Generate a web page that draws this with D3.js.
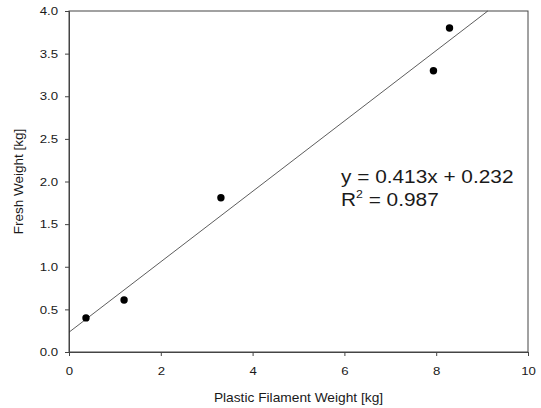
<!DOCTYPE html>
<html>
<head>
<meta charset="utf-8">
<script src="https://cdn.jsdelivr.net/npm/d3@7"></script>
<style>
  body { margin: 0; background: #fff; }
  svg text { font-family: "Liberation Sans", Arial, sans-serif; fill: #1a1a1a; }
</style>
</head>
<body>
<div id="chart"></div>
<script>
// data
const filament = [0.37, 1.2, 3.31, 7.94, 8.29];
const fresh = [0.40, 0.61, 1.81, 3.30, 3.80];
const slope = 0.413, intercept = 0.232, r2 = 0.987;
const xTicks = [0, 2, 4, 6, 8, 10];
const yTicks = [0, 0.5, 1, 1.5, 2, 2.5, 3, 3.5, 4];

const width = 541, height = 408;
const margin = { top: 11, right: 13, bottom: 56, left: 69 };

const svg = d3.select("#chart").append("svg")
  .attr("width", width).attr("height", height);

const x = d3.scaleLinear().domain([0, 10]).range([margin.left, width - margin.right]);
const y = d3.scaleLinear().domain([0, 4]).range([height - margin.bottom, margin.top]);

// the source font is a bit wider than Arial, so stretch text sideways
function stretch(sel, sx) {
  sel.each(function() {
    const t = d3.select(this);
    const tx = +t.attr("x") || 0, ty = +t.attr("y") || 0;
    const old = t.attr("transform") || "";
    t.attr("x", 0).attr("y", 0)
      .attr("transform", `${old} translate(${tx},${ty}) scale(${sx},1)`);
  });
}

// frame
svg.append("rect")
  .attr("x", x(0)).attr("y", y(4))
  .attr("width", x(10) - x(0)).attr("height", y(0) - y(4))
  .attr("fill", "none").attr("stroke", "#444").attr("stroke-width", 1);

const xAxis = svg.append("g")
  .attr("transform", `translate(0,${y(0)})`)
  .call(d3.axisBottom(x).tickValues(xTicks).tickSize(4).tickPadding(11).tickFormat(d3.format("d")));
const yAxis = svg.append("g")
  .attr("transform", `translate(${x(0)},0)`)
  .call(d3.axisLeft(y).tickValues(yTicks).tickSize(4).tickPadding(7).tickFormat(d3.format(".1f")));

[xAxis, yAxis].forEach(g => {
  g.select(".domain").attr("stroke", "#444");
  g.selectAll(".tick line").attr("stroke", "#444");
  g.selectAll("text").attr("font-size", 11.5)
    .attr("font-family", "Liberation Sans, Arial, sans-serif").attr("fill", "#1a1a1a");
  stretch(g.selectAll("text"), 1.15);
});

// regression line, stops at the top of the plot
const xEnd = (4 - intercept) / slope;
svg.append("line")
  .attr("x1", x(0)).attr("y1", y(intercept))
  .attr("x2", x(xEnd)).attr("y2", y(4))
  .attr("stroke", "#333").attr("stroke-width", 0.8);

svg.selectAll("circle.pt")
  .data(filament.map((v, i) => [v, fresh[i]]))
  .join("circle")
  .attr("class", "pt")
  .attr("cx", d => x(d[0])).attr("cy", d => y(d[1]))
  .attr("r", 3.7).attr("fill", "#000");

// equation
const eq = svg.append("g").attr("font-size", 18.6);
eq.append("text").attr("x", 341).attr("y", 183)
  .text(`y = ${slope}x + ${intercept}`);
const r = eq.append("text").attr("x", 341).attr("y", 206);
r.append("tspan").text("R");
r.append("tspan").attr("font-size", 11).attr("dy", -8).text("2");
r.append("tspan").attr("dy", 8).text(` = ${r2}`);
stretch(eq.selectAll("text"), 1.12);

// axis titles
const xt = svg.append("text")
  .attr("x", (x(0) + x(10)) / 2).attr("y", 402)
  .attr("text-anchor", "middle").attr("font-size", 12.5)
  .text("Plastic Filament Weight [kg]");
stretch(xt, 1.1);
svg.append("text")
  .attr("transform", `translate(23,${(y(0) + y(4)) / 2}) rotate(-90) scale(1.08,1)`)
  .attr("text-anchor", "middle").attr("font-size", 12.5)
  .text("Fresh Weight [kg]");
</script>
</body>
</html>
